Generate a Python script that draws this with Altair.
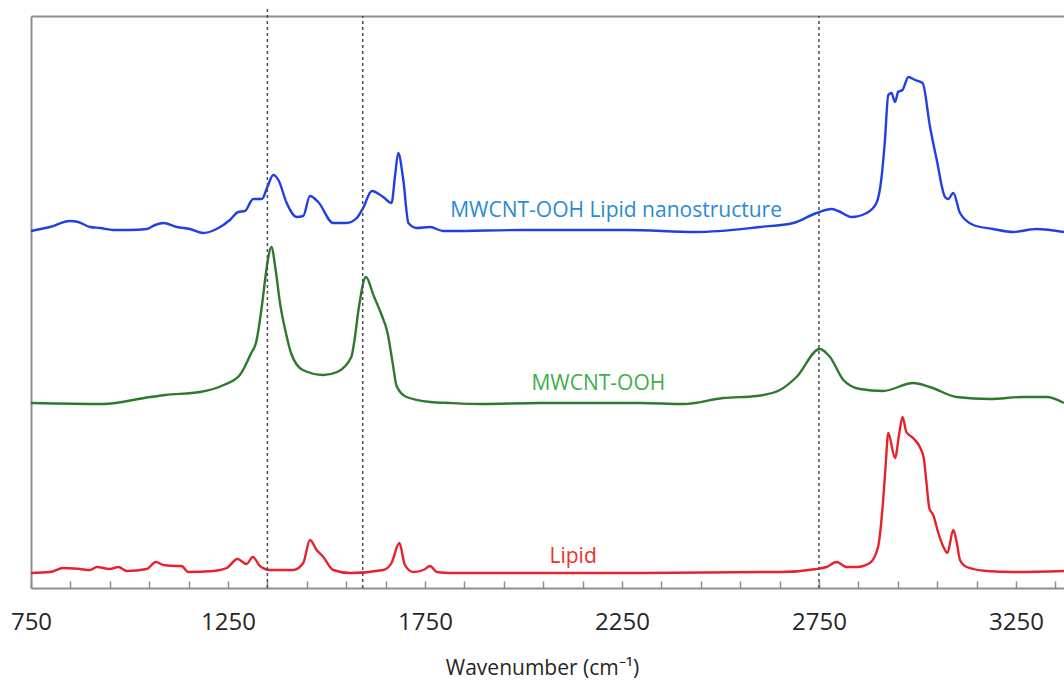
import altair as alt
import pandas as pd

# ---------------- data ----------------
blue_wn = [750, 798, 849, 870, 900, 925, 959, 1001, 1044, 1065, 1086, 1120, 1154, 1187, 1221,
           1255, 1276, 1293, 1314, 1336, 1350, 1365, 1378, 1399, 1424, 1441, 1458, 1479, 1517,
           1551, 1577, 1593, 1615, 1644, 1665, 1674, 1682, 1695, 1708, 1729, 1763, 1796, 1813,
           2001, 2263, 2438, 2600, 2685, 2744, 2782, 2799, 2833, 2871, 2896, 2909, 2917, 2926,
           2934, 2943, 2951, 2962, 2977, 2994, 3013, 3032, 3049, 3070, 3078, 3091, 3108, 3142,
           3192, 3243, 3302, 3372]
blue_int = [357, 361, 367, 366, 361, 360, 358, 358, 359, 363, 365, 361, 359, 355, 359,
            368, 376, 377, 389, 389, 401, 413, 408, 385, 371, 372, 392, 386, 365,
            365, 370, 380, 397, 391, 385, 412, 435, 408, 365, 360, 361, 357, 357,
            358, 358, 356, 361, 365, 375, 379, 377, 371, 375, 385, 411, 445, 493,
            495, 486, 496, 498, 511, 508, 505, 461, 428, 391, 389, 395, 375, 363,
            359, 356, 359, 356]

green_wn = [750, 933, 1052, 1091, 1179, 1239, 1280, 1309, 1321, 1337, 1345, 1352, 1360, 1371,
            1382, 1397, 1410, 1440, 1492, 1527, 1563, 1570, 1582, 1600, 1620, 1638, 1655, 1668,
            1678, 1703, 1764, 1813, 1895, 2042, 2296, 2406, 2507, 2592, 2651, 2693, 2752, 2778,
            2812, 2854, 2913, 2989, 3032, 3099, 3184, 3268, 3328, 3372]
green_int = [185, 184, 191, 193, 196, 203, 213, 235, 245, 285, 311, 330, 341, 318,
             285, 255, 235, 218, 213, 216, 231, 245, 280, 311, 292, 275, 255, 225,
             202, 191, 186, 185, 184, 185, 185, 184, 190, 192, 198, 211, 239, 231,
             208, 199, 197, 205, 201, 191, 189, 191, 191, 185]

red_wn = [750, 798, 832, 874, 900, 917, 950, 972, 993, 1044, 1067, 1086, 1120, 1132, 1149,
          1213, 1247, 1274, 1297, 1313, 1331, 1357, 1416, 1441, 1458, 1475, 1492, 1517, 1560,
          1644, 1665, 1685, 1699, 1720, 1746, 1763, 1780, 1813, 2001, 2300, 2613, 2651, 2744,
          2769, 2795, 2820, 2846, 2879, 2900, 2913, 2919, 2926, 2943, 2954, 2962, 2972, 2989,
          3006, 3016, 3023, 3030, 3040, 3053, 3066, 3076, 3091, 3100, 3108, 3125, 3176, 3243,
          3372]
red_int = [15, 16, 20, 19, 18, 21, 19, 21, 17, 19, 26, 23, 22, 22, 16,
           17, 20, 29, 24, 31, 22, 18, 18, 25, 48, 38, 31, 18, 15,
           18, 25, 45, 23, 16, 18, 22, 16, 15, 15, 15, 16, 16, 19,
           21, 26, 21, 21, 25, 41, 88, 121, 155, 130, 155, 171, 156, 150,
           141, 130, 105, 80, 73, 55, 41, 35, 58, 45, 28, 21, 17, 16,
           17]

series_names = ["MWCNT-OOH Lipid nanostructure", "MWCNT-OOH", "Lipid"]
line_colors = ["#2040e4", "#2d7a2d", "#e6222b"]
label_colors = ["#2b8ad4", "#3fae4a", "#ee3030"]
label_wn = [2235, 2190, 2126]
label_int = [377, 204, 31]

band_wn = [1350, 1592, 2750]
band_top = [581, 572, 572]
band_bottom = [0, 0, 0]

major_ticks = [750, 1250, 1750, 2250, 2750, 3250]
minor_ticks = [750, 850, 950, 1050, 1150, 1250, 1350, 1450, 1550, 1650, 1750, 1850, 1950,
               2050, 2150, 2250, 2350, 2450, 2550, 2650, 2750, 2850, 2950, 3050, 3150, 3250, 3350]

x_domain = [750, 3372]
y_domain = [0, 572]

# ---------------- tables ----------------
rows = []
for name, col, wns, ints in zip(series_names, line_colors,
                                [blue_wn, green_wn, red_wn], [blue_int, green_int, red_int]):
    for w, v in zip(wns, ints):
        rows.append({"series": name, "color": col, "wn": w, "intensity": v})
spectra = pd.DataFrame(rows)

labels_df = pd.DataFrame({"text": series_names, "color": label_colors,
                          "wn": label_wn, "intensity": label_int})
bands_df = pd.DataFrame({"wn": band_wn, "lo": band_bottom, "hi": band_top})
ticks_df = pd.DataFrame({"wn": minor_ticks})

FONT = "Open Sans"
BORDER = "#8e8e8e"
W, H = 1033, 572

xs = alt.Scale(domain=x_domain, nice=False, zero=False)
ys = alt.Scale(domain=y_domain, nice=False, zero=False)


def y_axis():
    return alt.Axis(orient="left", labels=False, ticks=False, grid=False, title=None,
                    domainColor=BORDER, domainWidth=2)


lines = alt.Chart(spectra).mark_line(strokeWidth=2.4, strokeJoin="round",
                                     interpolate="monotone").encode(
    x=alt.X("wn:Q", scale=xs, axis=alt.Axis(
        orient="bottom", values=major_ticks, ticks=False, tickSize=0, grid=False,
        domainColor=BORDER, domainWidth=2,
        labelFont=FONT, labelFontSize=24, labelColor="#262626", labelPadding=22,
        labelFlush=False, labelOverlap=False, format="d",
        title="Wavenumber (cm⁻¹)", titleFont=FONT, titleFontSize=21,
        titleFontWeight="normal", titleColor="#262626",
        titleX=511, titleY=86, titleBaseline="alphabetic", titleAlign="center")),
    y=alt.Y("intensity:Q", scale=ys, axis=y_axis()),
    color=alt.Color("color:N", scale=None),
    detail="series:N",
    order="wn:Q",
)

bands = alt.Chart(bands_df).mark_rule(strokeDash=[3, 3], strokeWidth=1.5, color="#4d4d4d").encode(
    x=alt.X("wn:Q", scale=xs, axis=alt.Axis(
        orient="top", labels=False, ticks=False, grid=False, title=None,
        domainColor=BORDER, domainWidth=2)),
    y=alt.Y("lo:Q", scale=ys, axis=y_axis()),
    y2="hi:Q",
)

ticks = alt.Chart(ticks_df).mark_rule(opacity=0).encode(
    x=alt.X("wn:Q", scale=xs, axis=alt.Axis(
        orient="top", offset=-H, values=minor_ticks, labels=False, ticks=True,
        tickSize=7, tickColor=BORDER, tickWidth=1.5, domain=False, grid=False, title=None)),
)

texts = alt.Chart(labels_df).mark_text(font=FONT, fontSize=21, align="center",
                                       baseline="middle").encode(
    x=alt.X("wn:Q", scale=xs, axis=None),
    y=alt.Y("intensity:Q", scale=ys, axis=y_axis()),
    text="text:N",
    color=alt.Color("color:N", scale=None),
)

chart = alt.layer(lines, bands, ticks, texts).resolve_axis(x="independent").properties(
    width=W, height=H,
    padding={"left": 31, "top": 16, "right": 0, "bottom": 92},
    autosize=alt.AutoSizeParams(type="none"),
    background="white",
).configure_view(stroke=None)

chart.save("out.html", embed_options={"renderer": "svg", "actions": False})
